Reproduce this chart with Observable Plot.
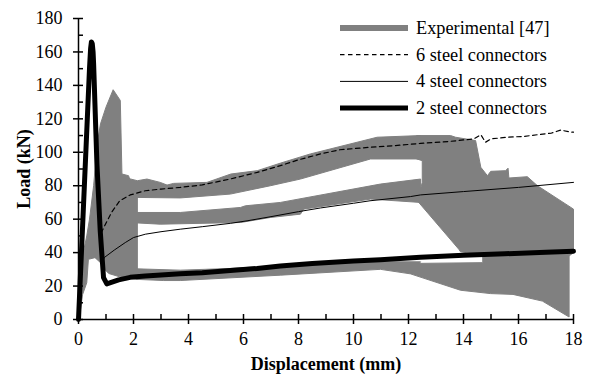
<!DOCTYPE html>
<html>
<head>
<meta charset="utf-8">
<script src="https://cdn.jsdelivr.net/npm/d3@7"></script>
<script src="https://cdn.jsdelivr.net/npm/@observablehq/plot@0.6"></script>
<style>
  body { margin: 0; background: #fff; }
  #chart { position: relative; width: 589px; height: 379px; font-family: "Liberation Serif", "Times New Roman", serif; }
  #chart g[aria-label="x-axis label"] text, #chart g[aria-label="y-axis label"] text { font-weight: bold; }
</style>
</head>
<body>
<div id="chart"></div>
<script>
// ---------- data (displacement mm, load kN) ----------
const xTicks = [0, 2, 4, 6, 8, 10, 12, 14, 16, 18];
const xMinorTicks = [0, 1, 2, 3, 4, 5, 6, 7, 8, 9, 10, 11, 12, 13, 14, 15, 16, 17, 18];
const yTicks = [0, 20, 40, 60, 80, 100, 120, 140, 160, 180];
const yMinorTicks = [0, 10, 20, 30, 40, 50, 60, 70, 80, 90, 100, 110, 120, 130, 140, 150, 160, 170, 180];

const legendLabels = ["Experimental [47]", "6 steel connectors", "4 steel connectors", "2 steel connectors"];

// Experimental envelope (grey region), outlined as polygons
const expSpike = [[0.03,1],[0.15,15],[0.3,22],[0.36,36],[0.6,37],[0.8,34],[0.95,30],[1.1,27.5],[1.5,25.5],[2.14,24],
  [2.14,80],[1.9,82],[1.82,86],[1.58,87],[1.52,131],[1.26,137.4],[1.0,127],[0.8,117],[0.68,105],[0.55,80],[0.4,60],
  [0.3,50],[0.2,42],[0.12,30],[0.06,12]];
const expUpper = [[1.85,84.2],[2.14,83],[2.49,84],[2.97,82],[3.22,80.4],[3.46,81.4],[4.67,82],[5.54,87],[6.5,89],
  [7.34,93.5],[8.43,99],[10.86,109],[12.44,110],
  [12.44,96],[10.62,96],[8.07,84],[6.98,80],[5.52,75],[3.7,72.7],[2.12,73],[1.85,74]];
const expMiddle = [[1.85,64],[3.7,64],[5.89,67],[6.07,68],[7.34,70],[10.98,81],[12.44,84],
  [12.44,70],[10.62,72],[8.19,66],[8.07,63],[6.98,61],[5.89,58],[2.97,57],[1.85,58]];
const expLower = [[2.12,30.3],[3.7,29.5],[5.5,30.5],[7,32],[8.8,33.5],[11,34.5],[12.44,34.5],
  [12.07,27.3],[10.98,30],[7.34,26.5],[3.7,23.3],[3.1,23.3],[2.12,24]];
const expRight = [[12.3,110],[13.53,110],[13.71,109],[14.44,107],[14.63,91],[14.87,86],[14.99,88.6],[15.53,89],
  [15.62,90.5],[15.65,84.6],[16.32,85.4],[16.69,80],[18.0,66],[18.0,40],[17.84,38],[17.84,1.5],[16.87,11],
  [15.8,15],[14.98,15.5],[13.89,17.5],[12.07,27.3],[12.07,33.5],[14.7,34],[14.7,38.5],[13.89,40.5],
  [13.83,42],[12.32,71],[12.5,82],[12.5,95],[12.3,96]];

// Simulations
const sim6 = [[0,0],[0.4,150],[0.44,162],[0.47,166],[0.5,165],[0.53,160],[0.55,152.7],[0.67,93],[0.8,51],
  [0.95,56],[1.2,64],[1.5,71],[1.88,74.5],[2.43,77],[3,78],[3.7,79],[4.5,80.5],[5.52,84],[6.5,88],[7.34,92],
  [8,95.5],[8.8,99],[9.5,101.5],[10.6,103],[11.5,104],[12.44,105.3],[13.5,106.5],[14.38,108],[14.63,110.5],
  [14.8,106],[15.0,108],[15.6,109],[16.2,109.5],[16.69,110.5],[17.2,111.5],[17.54,113.3],[17.9,112],[18,112]];
const sim4 = [[0,0],[0.4,150],[0.44,162],[0.47,166],[0.5,165],[0.53,160],[0.55,152.7],[0.67,93],[0.79,53],
  [0.86,35],[0.95,37.2],[1.3,41.5],[1.7,46],[2.0,49],[2.43,51],[3,52.5],[3.7,54],[4.5,55.5],[5.52,57.5],
  [6.13,59],[7,61.5],[8,64.5],[8.8,66.7],[10,69.5],[10.6,71],[12.07,73.5],[12.44,74.5],[14,76.5],[16,79],[18,82]];
const sim2 = [[0,0],[0.4,150],[0.44,162],[0.47,166],[0.5,165],[0.53,160],[0.55,152.7],[0.67,93],[0.79,53],
  [0.91,25],[1.03,21.3],[1.46,23.7],[1.88,25.2],[2.43,26],[3,26.6],[3.7,27.3],[4.5,28],[5.52,29.3],[6.5,30.5],
  [7.34,32],[8.5,33.5],[10,35],[10.98,35.8],[12.44,37.2],[14,38.4],[15.5,39.3],[17,40.2],[18,40.8]];

// ---------- build ----------
const toRows = (pairs, name) => pairs.map(([d, L]) => ({d, L, name}));
const expRows = [
  ...toRows(expSpike, "spike"), ...toRows(expUpper, "upper"), ...toRows(expMiddle, "middle"),
  ...toRows(expLower, "lower"), ...toRows(expRight, "right")
];
const grey = "#808080";
const font = '"Liberation Serif", "Times New Roman", serif';

const chart = Plot.plot({
  width: 589,
  height: 379,
  marginLeft: 78,
  marginRight: 16,
  marginTop: 18,
  marginBottom: 60,
  style: {fontFamily: font, fontSize: "18px", background: "white", color: "black"},
  x: {domain: [0, 18]},
  y: {domain: [0, 180]},
  marks: [
    Plot.line(expRows, {x: "d", y: "L", z: "name", fill: grey, stroke: grey, strokeWidth: 1, curve: "linear"}),
    Plot.line(toRows(sim6, "6"), {x: "d", y: "L", stroke: "black", strokeWidth: 1.2, strokeDasharray: "4.5,3.5"}),
    Plot.line(toRows(sim4, "4"), {x: "d", y: "L", stroke: "black", strokeWidth: 1}),
    Plot.line(toRows(sim2, "2"), {x: "d", y: "L", stroke: "black", strokeWidth: 5, strokeLinejoin: "round", strokeLinecap: "round"}),
    Plot.ruleY([0], {stroke: "black", strokeWidth: 1.5}),
    Plot.ruleX([0], {stroke: "black", strokeWidth: 1.5}),
    Plot.axisX({ticks: xMinorTicks, tickSize: 5, dy: -5, tickFormat: () => "", label: null, strokeWidth: 1.5}),
    Plot.axisX({ticks: xTicks, tickSize: 5, tickPadding: 8, tickFormat: d => String(d), strokeWidth: 1.5,
      label: "Displacement (mm)", labelAnchor: "center", labelArrow: "none", labelOffset: 50}),
    Plot.axisY({ticks: yMinorTicks, tickSize: 5, dx: 5, tickFormat: () => "", label: null, strokeWidth: 1.5}),
    Plot.axisY({ticks: yTicks, tickSize: 5, tickPadding: 11, tickFormat: d => String(d), strokeWidth: 1.5,
      label: "Load (kN)", labelAnchor: "center", labelArrow: "none", labelOffset: 61})
  ]
});
const host = document.getElementById("chart");
host.appendChild(chart);

// ---------- legend overlay ----------
const legendStyles = [
  {stroke: grey, width: 6, dash: null},
  {stroke: "black", width: 1.2, dash: "4.5,3.5"},
  {stroke: "black", width: 1, dash: null},
  {stroke: "black", width: 5, dash: null}
];
const lg = d3.select(host).append("svg")
  .attr("width", 589).attr("height", 379)
  .style("position", "absolute").style("left", "0px").style("top", "0px")
  .style("pointer-events", "none");
const rows = lg.selectAll("g").data(legendLabels).join("g")
  .attr("transform", (d, i) => `translate(0,${28 + i * 26.7})`);
rows.append("line")
  .attr("x1", 340).attr("x2", 408).attr("y1", 0).attr("y2", 0)
  .attr("stroke", (d, i) => legendStyles[i].stroke)
  .attr("stroke-width", (d, i) => legendStyles[i].width)
  .attr("stroke-dasharray", (d, i) => legendStyles[i].dash);
rows.append("text")
  .attr("x", 416).attr("y", 0).attr("dy", "0.32em")
  .attr("font-family", font).attr("font-size", 18.3).attr("fill", "black")
  .text(d => d);
</script>
</body>
</html>
